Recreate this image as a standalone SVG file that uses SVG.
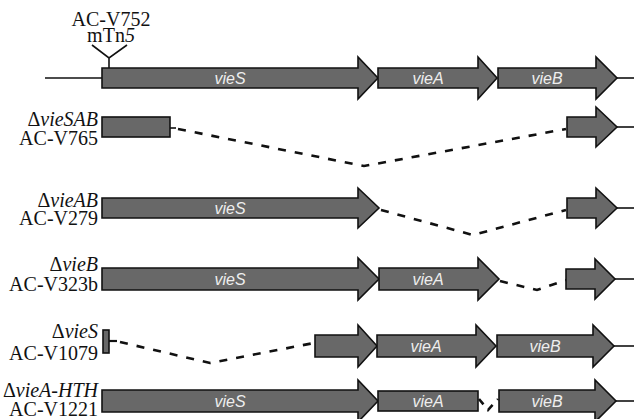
<svg xmlns="http://www.w3.org/2000/svg" width="634" height="419" viewBox="0 0 634 419">
<style>
.g{fill:#686868;stroke:#111;stroke-width:1.6;stroke-linejoin:miter}
.ln{stroke:#111;stroke-width:1.6;fill:none}
.d{stroke:#111;stroke-width:2.6;fill:none;stroke-dasharray:8 9}
.gl{font-family:"Liberation Sans",Arial,sans-serif;font-style:italic;font-size:16px;fill:#eeeeee;text-anchor:middle}
.lb{font-family:"Liberation Serif","Times New Roman",serif;font-size:20px;fill:#111;text-anchor:end}
.it{font-style:italic}
</style>
<rect width="634" height="419" fill="#fff"/>
<g id="connectors">
<line class="ln" x1="45" y1="78" x2="102" y2="78"/>
<line class="ln" x1="617" y1="78" x2="634" y2="78"/>
<line class="ln" x1="617" y1="127" x2="634" y2="127"/>
<line class="ln" x1="617" y1="208" x2="634" y2="208"/>
<line class="ln" x1="615" y1="279" x2="634" y2="279"/>
<line class="ln" x1="614" y1="346" x2="634" y2="346"/>
<line class="ln" x1="616" y1="401" x2="634" y2="401"/>
<path class="ln" d="M170,128 H176"/>
<path class="d" d="M178,129 L364,166 L566,129"/>
<path class="d" d="M381,210 L473,235 L566,210"/>
<path class="d" d="M500,281 L537,290 L566,280"/>
<path class="ln" d="M109,341 H117" style="stroke-width:2.2"/>
<path class="d" d="M120,342 L210,363 L314,343"/>
<path class="d" d="M479,399 L488,410 L498,399" style="stroke-dasharray:7 7"/>
</g>
<g id="tn5">
<path class="ln" d="M92,45 L109,58 L127,45 M109,58 V68"/>
<text x="111" y="26" class="lb" style="text-anchor:middle">AC-V752</text>
<text x="111" y="42" class="lb" style="text-anchor:middle">mTn<tspan class="it">5</tspan></text>
</g>
<g id="row1">
<polygon class="g" points="102,68 358,68 358,57 378,78 358,99 358,88 102,88"/>
<text class="gl" x="230" y="84">vieS</text>
<polygon class="g" points="378,68 478,68 478,57 497,78 478,99 478,88 378,88"/>
<text class="gl" x="428" y="84">vieA</text>
<polygon class="g" points="498,68 596,68 596,57 617,78 596,99 596,88 498,88"/>
<text class="gl" x="547" y="84">vieB</text>
</g>
<g id="row2">
<text class="lb" x="98" y="126">Δ<tspan class="it">vieSAB</tspan></text>
<text class="lb" x="98" y="145">AC-V765</text>
<rect class="g" x="102" y="117" width="68" height="20"/>
<polygon class="g" points="567,117 596,117 596,107 617,127 596,147 596,137 567,137"/>
</g>
<g id="row3">
<text class="lb" x="98" y="207">Δ<tspan class="it">vieAB</tspan></text>
<text class="lb" x="98" y="225">AC-V279</text>
<polygon class="g" points="102,198 358,198 358,188 379,208 358,228 358,218 102,218"/>
<text class="gl" x="230" y="214">vieS</text>
<polygon class="g" points="567,198 596,198 596,188 617,208 596,228 596,218 567,218"/>
</g>
<g id="row4">
<text class="lb" x="98" y="271">Δ<tspan class="it">vieB</tspan></text>
<text class="lb" x="98" y="291">AC-V323b</text>
<polygon class="g" points="102,268 358,268 358,258 379,279 358,300 358,290 102,290"/>
<text class="gl" x="230" y="285">vieS</text>
<polygon class="g" points="379,268 478,268 478,258 499,279 478,300 478,290 379,290"/>
<text class="gl" x="428" y="285">vieA</text>
<polygon class="g" points="566,269 595,269 595,259 615,279 595,299 595,289 566,289"/>
</g>
<g id="row5">
<text class="lb" x="98" y="338">Δ<tspan class="it">vieS</tspan></text>
<text class="lb" x="98" y="360">AC-V1079</text>
<rect class="g" x="103" y="330" width="6" height="23"/>
<polygon class="g" points="315,335 358,335 358,325 377,346 358,367 358,357 315,357"/>
<polygon class="g" points="377,335 476,335 476,325 496,346 476,367 476,357 377,357"/>
<text class="gl" x="426" y="352">vieA</text>
<polygon class="g" points="497,335 593,335 593,325 614,346 593,367 593,357 497,357"/>
<text class="gl" x="545" y="352">vieB</text>
</g>
<g id="row6">
<text class="lb" x="98" y="397">Δ<tspan class="it">vieA-HTH</tspan></text>
<text class="lb" x="98" y="416">AC-V1221</text>
<polygon class="g" points="102,390 358,390 358,380 378,401 358,422 358,412 102,412"/>
<text class="gl" x="230" y="407">vieS</text>
<rect class="g" x="378" y="391" width="100" height="20"/>
<text class="gl" x="428" y="407">vieA</text>
<polygon class="g" points="499,390 595,390 595,380 616,401 595,422 595,412 499,412"/>
<text class="gl" x="547" y="407">vieB</text>
</g>
</svg>
